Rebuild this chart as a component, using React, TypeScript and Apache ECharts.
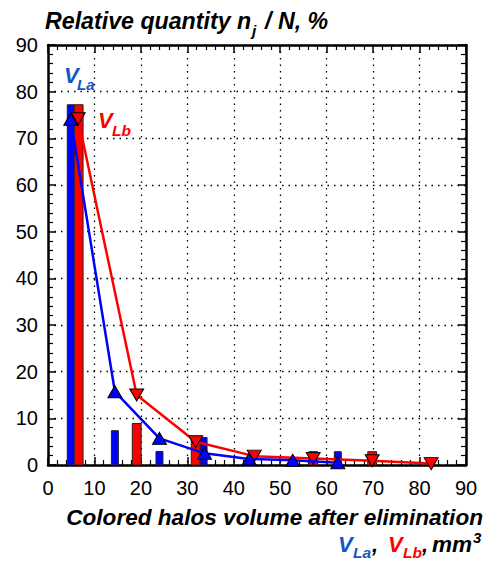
import React, { useEffect, useRef } from "react";
import * as echarts from "echarts";

// ---- data ----
const BLUE_BAR_X = [4.9, 14.4, 24.0, 33.5, 62.4];
const BLUE_BAR_Y = [77.2, 7.35, 2.9, 5.9, 2.85];
const RED_BAR_X = [6.6, 19.1, 31.8, 57.1, 69.8];
const RED_BAR_Y = [77.2, 8.9, 5.5, 2.85, 2.85];

const BLUE_LINE_X = [4.9, 14.4, 24.0, 33.7, 43.3, 52.7, 62.4];
const BLUE_LINE_Y = [74.1, 15.7, 5.7, 2.5, 1.3, 1.0, 0.5];
const RED_LINE_X = [6.5, 19.1, 31.8, 44.4, 57.1, 69.8, 82.5];
const RED_LINE_Y = [74.2, 15.0, 5.0, 1.9, 1.4, 0.9, 0.3];

const X_TICKS = [0, 10, 20, 30, 40, 50, 60, 70, 80, 90];
const Y_TICKS = [0, 10, 20, 30, 40, 50, 60, 70, 80, 90];

const FONT = "'Liberation Sans', Arial, sans-serif";
const BLUE = "#0000ff";
const RED = "#ff0000";
const LABEL_BLUE = "#1155cc";

const zip = (xs: number[], ys: number[]) => xs.map((x, i) => [x, ys[i]]);

function barSeries(name: string, data: number[][], fill: string, widthUnits: number) {
  return {
    name,
    type: "custom",
    z: 2,
    encode: { x: 0, y: 1 },
    data,
    renderItem: (params: any, api: any) => {
      const x = api.value(0);
      const y = api.value(1);
      const p0 = api.coord([x, 0]);
      const p1 = api.coord([x, y]);
      const w = api.size([widthUnits, 0])[0];
      return {
        type: "rect",
        shape: { x: p0[0] - w / 2, y: p1[1], width: w, height: p0[1] - p1[1] },
        style: { fill, stroke: "#222", lineWidth: 1 },
      };
    },
  };
}

function txt(text: string, x: number, y: number, size: number, fill: string, align = "left") {
  return {
    type: "text",
    x,
    y,
    z: 100,
    style: {
      text,
      font: `italic bold ${size}px ${FONT}`,
      fill,
      textAlign: align,
      textVerticalAlign: "middle",
    },
  };
}

const axisCommon = {
  type: "value",
  min: 0,
  max: 90,
  interval: 10,
  axisLine: { show: true, onZero: false, lineStyle: { color: "#000", width: 2.5 } },
  axisTick: { show: true, inside: true, length: 8, lineStyle: { color: "#000", width: 1.5 } },
  minorTick: { show: true, splitNumber: 5, length: 5, lineStyle: { color: "#000", width: 1.2 } },
};

export default function App() {
  const ref = useRef<HTMLDivElement>(null);
  useEffect(() => {
    if (!ref.current) return;
    const chart = echarts.init(ref.current, undefined, { renderer: "svg" });
    const option: any = {
      animation: false,
      backgroundColor: "#fff",
      grid: { left: 48, right: 20, top: 45, bottom: 97, containLabel: false },
      xAxis: [
        {
          ...axisCommon,
          position: "bottom",
          axisLabel: {
            color: "#000",
            fontSize: 20,
            fontFamily: FONT,
            margin: 13,
            formatter: (v: number) => (X_TICKS.includes(v) ? String(v) : ""),
          },
          splitLine: { show: true, lineStyle: { color: "#000", width: 1.3, type: [1.5, 5] } },
        },
        {
          ...axisCommon,
          position: "top",
          axisLabel: { show: false },
          splitLine: { show: false },
        },
      ],
      yAxis: [
        {
          ...axisCommon,
          position: "left",
          axisLabel: {
            color: "#000",
            fontSize: 20,
            fontFamily: FONT,
            margin: 10,
            formatter: (v: number) => (Y_TICKS.includes(v) ? String(v) : ""),
          },
          splitLine: { show: true, lineStyle: { color: "#000", width: 1.3, type: [1.5, 5] } },
        },
        {
          ...axisCommon,
          position: "right",
          axisLabel: { show: false },
          splitLine: { show: false },
        },
      ],
      series: [
        barSeries("VLa bars", zip(BLUE_BAR_X, BLUE_BAR_Y), BLUE, 1.5),
        barSeries("VLb bars", zip(RED_BAR_X, RED_BAR_Y), RED, 1.9),
        {
          name: "VLb",
          type: "line",
          z: 3,
          data: zip(RED_LINE_X, RED_LINE_Y),
          symbol: "triangle",
          symbolRotate: 180,
          symbolSize: [14, 12],
          lineStyle: { color: RED, width: 2.5 },
          itemStyle: { color: RED, borderColor: "#000", borderWidth: 1 },
        },
        {
          name: "VLa",
          type: "line",
          z: 4,
          data: zip(BLUE_LINE_X, BLUE_LINE_Y),
          symbol: "triangle",
          symbolSize: [14, 12],
          lineStyle: { color: BLUE, width: 2.5 },
          itemStyle: { color: BLUE, borderColor: "#000", borderWidth: 1 },
        },
      ],
      graphic: [
        // title
        txt("Relative quantity n", 45, 21, 23.2, "#000"),
        txt("j", 252, 30, 15.5, "#000"),
        txt("/ N, %", 265, 21, 23.2, "#000"),
        // in-plot labels
        txt("V", 64, 75, 22, LABEL_BLUE),
        txt("La", 77, 84, 15, LABEL_BLUE),
        txt("V", 98, 120.5, 22, RED),
        txt("Lb", 112, 130, 15.5, RED),
        // x axis name
        txt("Colored halos volume after elimination", 483, 517, 22.6, "#000", "right"),
        txt("V", 338, 544, 22, LABEL_BLUE),
        txt("La", 353, 552.5, 15.5, LABEL_BLUE),
        txt(",", 372, 544, 22, "#000"),
        txt("V", 388, 544, 22, RED),
        txt("Lb", 403, 552.5, 15.5, RED),
        txt(",", 422, 544, 22, "#000"),
        txt("mm", 432, 544, 22.5, "#000"),
        txt("3", 473, 537, 15, "#000"),
      ],
    };
    chart.setOption(option);
    return () => chart.dispose();
  }, []);
  return (
    <div
      ref={ref}
      style={{ position: "fixed", left: 0, top: 0, width: 486, height: 562, background: "#fff" }}
    />
  );
}
